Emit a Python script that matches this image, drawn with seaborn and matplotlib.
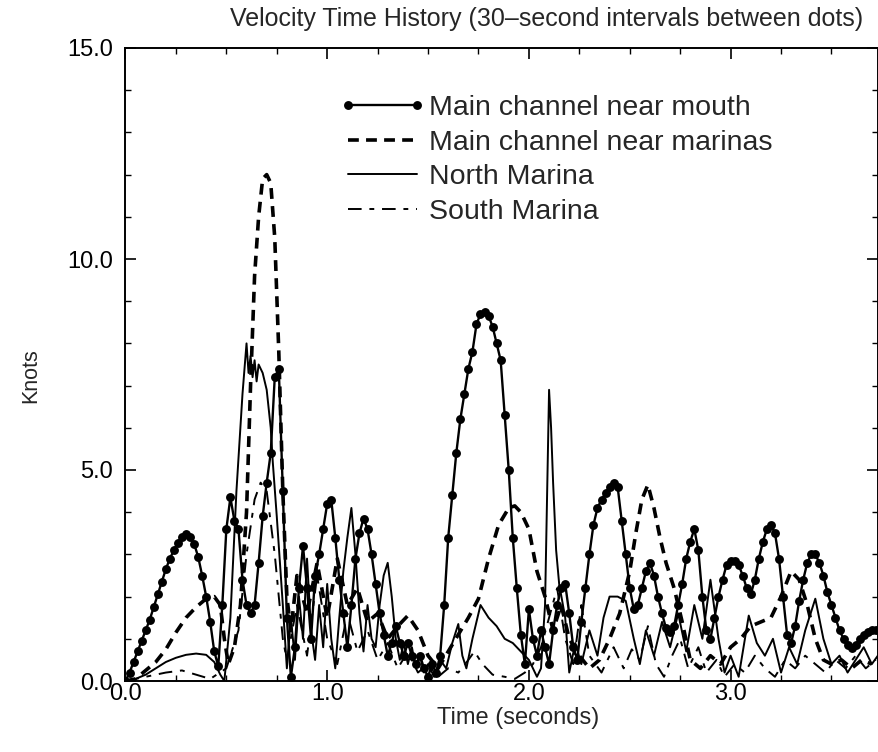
import numpy as np
import pandas as pd
import matplotlib
matplotlib.use("Agg")
import matplotlib.pyplot as plt
from matplotlib.ticker import MultipleLocator, FixedLocator, FixedFormatter
import seaborn as sns

# ---------------- data ----------------
TITLE = "Velocity Time History (30\u2013second intervals between dots)"
X_LABEL = "Time (seconds)"
Y_LABEL = "Knots"
SERIES_NAMES = ["Main channel near mouth", "Main channel near marinas",
                "North Marina", "South Marina"]
X_TICKS = [0.0, 1.0, 2.0, 3.0]
X_TICK_LABELS = ["0.0", "1.0", "2.0", "3.0"]
Y_TICKS = [0.0, 5.0, 10.0, 15.0]
Y_TICK_LABELS = ["0.0", "5.0", "10.0", "15.0"]

# Main channel near mouth: one dot every 0.02 s starting at 0.0
MOUTH_DT = 0.02
MOUTH_V = [
    0.0, 0.2, 0.45, 0.7, 0.95, 1.2, 1.45, 1.75, 2.05, 2.35,
    2.65, 2.9, 3.1, 3.28, 3.42, 3.48, 3.42, 3.25, 2.95, 2.5,
    2.0, 1.4, 0.7, 0.35, 1.8, 3.6, 4.35, 3.8, 3.6, 2.4,
    1.8, 1.6, 1.8, 2.8, 3.9, 4.7, 5.4, 7.2, 7.4, 4.5,
    1.5, 0.1, 0.8, 2.2, 3.2, 2.2, 1.0, 2.5, 3.0, 3.6,
    4.2, 4.3, 3.4, 2.4, 1.6, 0.8, 1.8, 2.9, 3.5, 3.85,
    3.6, 3.0, 2.3, 1.6, 1.1, 0.6, 0.9, 1.3, 0.9, 0.6,
    0.9, 0.6, 0.4, 0.6, 0.3, 0.1, 0.4, 0.2, 0.6, 1.8,
    3.4, 4.4, 5.4, 6.2, 6.8, 7.4, 7.8, 8.45, 8.7, 8.75,
    8.65, 8.4, 8.0, 7.6, 6.3, 5.0, 3.4, 2.2, 1.1, 0.4,
    1.7, 1.0, 0.6, 1.2, 0.8, 0.4, 1.2, 1.8, 2.2, 2.3,
    1.6, 0.8, 0.5, 1.4, 2.2, 3.0, 3.7, 4.1, 4.3, 4.45,
    4.6, 4.7, 4.6, 3.8, 3.0, 2.2, 1.7, 1.8, 2.2, 2.6,
    2.8, 2.5, 2.0, 1.6, 1.25, 1.15, 1.3, 1.8, 2.3, 2.9,
    3.3, 3.6, 3.1, 2.0, 1.2, 1.0, 1.5, 2.0, 2.4, 2.75,
    2.85, 2.85, 2.75, 2.5, 2.2, 2.05, 2.4, 2.9, 3.3, 3.6,
    3.7, 3.5, 2.9, 2.0, 1.1, 0.9, 1.3, 1.9, 2.4, 2.8,
    3.0, 3.0, 2.8, 2.5, 2.1, 1.8, 1.5, 1.2, 1.0, 0.85,
    0.78, 0.85, 1.0, 1.1, 1.15, 1.2, 1.2,
]

MARINAS_T = [0.00, 0.05, 0.10, 0.15, 0.20, 0.25, 0.30, 0.35, 0.40, 0.44,
             0.47, 0.49, 0.51, 0.54, 0.57, 0.60, 0.62, 0.64, 0.66, 0.68,
             0.70, 0.72, 0.74, 0.76, 0.78, 0.80, 0.82, 0.85, 0.90, 0.95,
             1.00, 1.05, 1.10, 1.15, 1.20, 1.25, 1.30, 1.35, 1.40, 1.45,
             1.50, 1.55, 1.60, 1.65, 1.70, 1.75, 1.80, 1.85, 1.90, 1.93,
             1.96, 2.00, 2.04, 2.08, 2.12, 2.16, 2.20, 2.25, 2.30, 2.35,
             2.40, 2.45, 2.50, 2.53, 2.56, 2.59, 2.62, 2.65, 2.68, 2.72,
             2.76, 2.80, 2.85, 2.90, 2.95, 3.00, 3.05, 3.10, 3.15, 3.20,
             3.25, 3.30, 3.34, 3.38, 3.42, 3.46, 3.50, 3.55, 3.60, 3.65,
             3.70]
MARINAS_V = [0.0, 0.05, 0.25, 0.45, 0.75, 1.15, 1.5, 1.75, 1.95, 2.0,
             1.8, 1.0, 0.4, 0.8, 1.8, 4.0, 7.0, 9.6, 11.0, 11.9,
             12.0, 11.8, 10.5, 7.8, 4.5, 2.0, 1.2, 2.5, 1.6, 2.8,
             1.5, 2.9, 1.8, 2.2, 1.4, 1.6, 1.0, 1.3, 1.55, 1.2,
             0.6, 0.3, 0.7, 1.1, 1.5, 1.95, 2.9, 3.7, 4.1, 4.15,
             4.0, 3.6, 2.6, 2.0, 1.2, 1.8, 1.0, 0.6, 0.3, 0.5,
             1.0, 1.6, 2.6, 3.5, 4.3, 4.65, 4.1, 3.4, 2.8, 2.2,
             1.4, 0.5, 0.3, 0.6, 0.4, 0.8, 1.0, 1.3, 1.4, 1.5,
             2.0, 2.6, 2.4, 1.8, 1.0, 0.5, 0.4, 0.5, 0.3, 0.5,
             0.4]

NORTH_T = [0.00, 0.05, 0.10, 0.15, 0.20, 0.25, 0.30, 0.35, 0.40, 0.44,
           0.47, 0.49, 0.52, 0.55, 0.58, 0.60, 0.61, 0.62, 0.63, 0.64,
           0.65, 0.66, 0.68, 0.70, 0.72, 0.73, 0.75, 0.78, 0.80, 0.82,
           0.84, 0.86, 0.88, 0.90, 0.92, 0.94, 0.96, 0.98, 1.00, 1.02,
           1.04, 1.06, 1.08, 1.10, 1.12, 1.14, 1.16, 1.18, 1.20, 1.22,
           1.24, 1.26, 1.28, 1.30, 1.32, 1.34, 1.36, 1.38, 1.40, 1.42,
           1.44, 1.46, 1.48, 1.50, 1.53, 1.56, 1.59, 1.62, 1.65, 1.67,
           1.69, 1.72, 1.76, 1.80, 1.84, 1.88, 1.92, 1.96, 2.00, 2.04,
           2.06, 2.08, 2.10, 2.11, 2.12, 2.135, 2.15, 2.18, 2.20, 2.23,
           2.26, 2.30, 2.34, 2.37, 2.40, 2.44, 2.48, 2.52, 2.55, 2.58,
           2.62, 2.66, 2.70, 2.74, 2.78, 2.82, 2.86, 2.90, 2.94, 2.97,
           3.00, 3.04, 3.09, 3.13, 3.17, 3.21, 3.25, 3.29, 3.33, 3.37,
           3.42, 3.46, 3.50, 3.54, 3.58, 3.62, 3.66, 3.70, 3.73]
NORTH_V = [0.0, 0.05, 0.15, 0.3, 0.45, 0.55, 0.62, 0.65, 0.62, 0.45,
           0.15, 0.0, 1.5, 4.5, 6.8, 8.0, 7.3, 7.7, 7.2, 7.6,
           7.1, 7.5, 7.3, 6.9, 6.0, 5.2, 3.9, 1.8, 0.3, 1.5,
           0.5, 2.0, 1.0, 2.9, 1.2, 0.5, 1.8, 0.8, 2.3, 1.0,
           0.3, 1.5, 2.6, 3.4, 4.1, 3.0, 1.6, 0.7, 1.8, 1.0,
           0.8, 1.8, 2.5, 2.8, 2.0, 1.0, 0.5, 0.9, 0.4, 0.8,
           0.3, 0.6, 0.2, 0.4, 0.1, 0.5, 0.3, 0.9, 1.35, 0.6,
           0.3, 1.0, 1.8, 1.5, 1.3, 1.0, 0.9, 0.7, 0.5, 0.1,
           0.3, 1.8, 6.9, 6.0, 4.7, 3.1, 2.3, 1.5, 0.2, 0.9,
           0.4, 1.2, 0.6, 1.5, 2.0, 2.0, 1.9, 1.0, 0.4, 1.2,
           0.6, 1.4, 0.8, 1.6, 0.7, 1.8, 1.0, 2.4, 1.0, 0.2,
           0.6, 0.1, 1.55, 0.9, 0.6, 1.0, 0.2, 0.8, 0.4, 1.2,
           1.95, 1.0, 0.4, 0.6, 0.2, 0.5, 0.8, 0.4, 0.6]

SOUTH_T = [0.00, 0.10, 0.20, 0.28, 0.35, 0.42, 0.50, 0.56, 0.60, 0.64,
           0.67, 0.70, 0.74, 0.78, 0.80, 0.85, 0.90, 0.95, 1.00, 1.05,
           1.10, 1.15, 1.20, 1.25, 1.30, 1.35, 1.40, 1.45, 1.50, 1.55,
           1.60, 1.65, 1.70, 1.73, 1.77, 1.82, 1.88, 1.93, 1.98, 2.02,
           2.06, 2.10, 2.14, 2.18, 2.22, 2.26, 2.30, 2.36, 2.42, 2.47,
           2.51, 2.55, 2.59, 2.63, 2.67, 2.71, 2.75, 2.79, 2.84, 2.88,
           2.93, 2.97, 3.02, 3.07, 3.12, 3.17, 3.22, 3.27, 3.32, 3.37,
           3.42, 3.47, 3.52, 3.57, 3.62, 3.67, 3.72]
SOUTH_V = [0.0, 0.1, 0.2, 0.25, 0.15, 0.05, 0.3, 1.2, 3.0, 4.3,
           4.7, 4.5, 3.0, 1.0, 0.5, 1.8, 0.6, 2.5, 1.0, 0.4,
           1.6, 0.7, 1.2, 0.5, 0.9, 0.3, 0.7, 0.2, 0.4, 0.1,
           0.3, 0.2, 0.5, 0.7, 0.4, 0.15, 0.1, 0.05, 0.2, 0.4,
           0.8, 1.5, 2.2, 1.0, 0.4, 1.8, 0.6, 0.2, 0.8, 0.3,
           0.75, 0.5, 1.3, 0.4, 0.1, 0.6, 1.0, 0.3, 0.8, 0.2,
           0.5, 0.1, 0.4, 0.2, 0.6, 0.3, 0.1, 0.5, 0.3, 0.6,
           0.4, 0.2, 0.5, 0.3, 0.6, 0.3, 0.5]

# ---------------- style ----------------
sns.set_style("ticks")
plt.rcParams["font.family"] = ["Liberation Sans", "DejaVu Sans"]

W, H = 879, 752
fig = plt.figure(figsize=(W / 100, H / 100), dpi=100)
ax_left, ax_right, ax_top, ax_bottom = 125.5, 878.0, 48.0, 681.0
ax = fig.add_axes([ax_left / W, 1 - ax_bottom / H,
                   (ax_right - ax_left) / W, (ax_bottom - ax_top) / H])

mouth_t = np.round(np.arange(len(MOUTH_V)) * MOUTH_DT, 3)

sns.lineplot(x=mouth_t, y=MOUTH_V, ax=ax, color="black", lw=1.7,
             marker="o", markersize=6.4, markeredgewidth=0,
             estimator=None, sort=False, label=SERIES_NAMES[0], zorder=5)
sns.lineplot(x=MARINAS_T, y=MARINAS_V, ax=ax, color="black", lw=2.6,
             linestyle=(0, (3.0, 2.0)), estimator=None, sort=False,
             label=SERIES_NAMES[1], zorder=4)
sns.lineplot(x=NORTH_T, y=NORTH_V, ax=ax, color="black", lw=1.4,
             estimator=None, sort=False, label=SERIES_NAMES[2], zorder=3)
sns.lineplot(x=SOUTH_T, y=SOUTH_V, ax=ax, color="black", lw=1.4,
             linestyle=(0, (7, 4, 2.5, 4)), estimator=None, sort=False,
             label=SERIES_NAMES[3], zorder=2)

ax.set_xlim(0, (ax_right - ax_left) / 201.7)
ax.set_ylim(0, 15)

ax.xaxis.set_major_locator(FixedLocator(X_TICKS))
ax.xaxis.set_major_formatter(FixedFormatter(X_TICK_LABELS))
ax.yaxis.set_major_locator(FixedLocator(Y_TICKS))
ax.yaxis.set_major_formatter(FixedFormatter(Y_TICK_LABELS))
ax.xaxis.set_minor_locator(MultipleLocator(0.25))
ax.yaxis.set_minor_locator(MultipleLocator(1.0))
ax.tick_params(which="both", direction="in", top=True, right=True,
               colors="black", labelsize=17)
ax.tick_params(which="major", length=8, width=1.2)
ax.tick_params(which="minor", length=4, width=1.0)
ax.tick_params(axis="y", pad=9)
ax.tick_params(axis="x", pad=1.5)
for s in ax.spines.values():
    s.set_visible(True)
    s.set_linewidth(1.4)
    s.set_color("black")
ax.set_xlabel("")
ax.set_ylabel("")

fig.text(547 / W, 1 - 19 / H, TITLE, ha="center", va="center", fontsize=18)
fig.text(518 / W, 1 - 718 / H, X_LABEL, ha="center", va="center", fontsize=17)
fig.text(31 / W, 1 - 376 / H, Y_LABEL, ha="center", va="center",
         fontsize=15.5, rotation=90)

handles, labels = ax.get_legend_handles_labels()
if ax.get_legend() is not None:
    ax.get_legend().remove()
fig.legend(handles, labels, loc="upper left",
           bbox_to_anchor=(339 / W, 1 - 95 / H), frameon=False,
           fontsize=20.5, handlelength=3.05, handletextpad=0.1,
           labelspacing=0.3, borderpad=0, borderaxespad=0, numpoints=2)

fig.savefig("out.png", dpi=100)
